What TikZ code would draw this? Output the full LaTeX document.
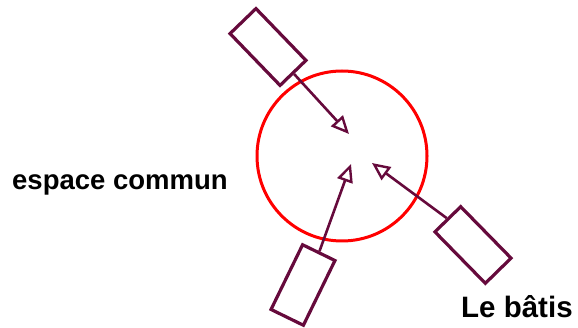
\documentclass[tikz,border=0pt]{standalone}
\usepackage{fontspec}
\setmainfont{Liberation Sans}
\usetikzlibrary{arrows.meta}
\definecolor{plum}{RGB}{102,10,60}
\tikzset{
  block/.style={draw=plum, line width=3.2pt, minimum width=72pt, minimum height=36pt, inner sep=0pt},
  link/.style={draw=plum, line width=2.6pt, -{Triangle[open, length=18pt, width=16pt, line width=2.4pt]}},
  label/.style={inner sep=0pt, font=\bfseries}
}
\begin{document}
\begin{tikzpicture}[x=1pt, y=-1pt]
\useasboundingbox (0,0) rectangle (578,328);
\node[draw=red, line width=3pt, circle, minimum size=170pt, inner sep=0pt] (space) at (342,156) {};
\node[block, rotate=-46] (b1) at (268,47) {};
\node[block, rotate=64] (b2) at (303,285) {};
\node[block, rotate=-45.6] (b3) at (473,245) {};
\coordinate (t1) at (349,134);
\coordinate (t2) at (351,164);
\coordinate (t3) at (372,163);
\draw[link] (b1.east) -- (t1);
\draw[link] (b2.east) -- (t2);
\draw[link] (b3.west) -- (t3);
\node[label, anchor=base west, font=\bfseries\fontsize{27.5}{30}\selectfont] (ec) at (12,190) {espace commun};
\node[label, anchor=base west, font=\bfseries\fontsize{29.5}{32}\selectfont] (lb) at (461,318) {Le bâtis};
\end{tikzpicture}
\end{document}
